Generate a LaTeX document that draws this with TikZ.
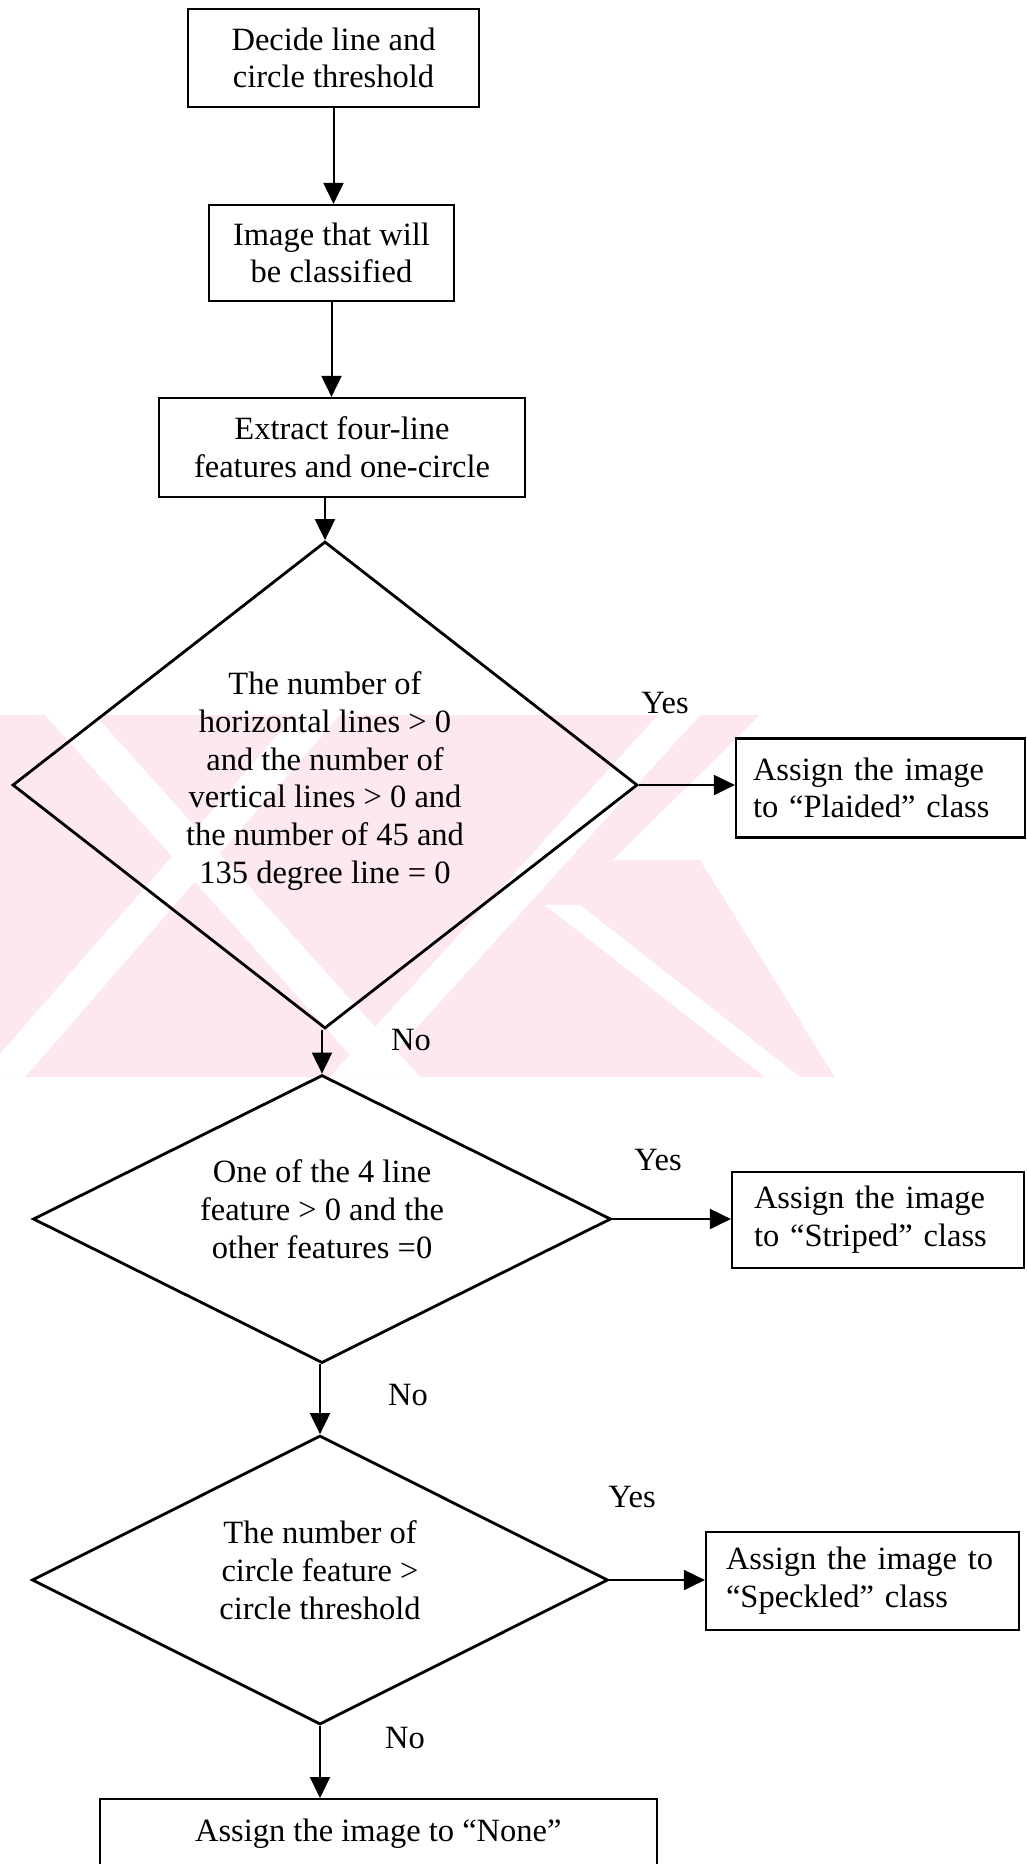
\documentclass[tikz,border=0pt]{standalone}
\usepackage{fontspec}
\setmainfont{Liberation Serif}
\usetikzlibrary{arrows.meta,shapes.geometric}
\definecolor{wmpink}{RGB}{252,232,237}

\begin{document}
\begin{tikzpicture}[x=1pt,y=-1pt,
  every node/.style={font=\fontsize{32.5}{37.7}\selectfont},
  box/.style={draw,line width=2.2pt,inner sep=0pt,align=center},
  sidebox/.style={draw,line width=2.2pt,inner ysep=0pt,align=left},
  decision/.style={draw,diamond,line width=2.8pt,inner sep=0pt,align=center},
  flow/.style={line width=2pt,-{Triangle[length=21pt,width=20pt]}},
  lbl/.style={inner sep=0pt}]
\useasboundingbox (0,0) rectangle (1027,1864);

% faint background emblem behind the first decision
\begin{scope}
  \clip (0,715) rectangle (835,1077);
  \fill[wmpink] (0,715) -- (760,715) -- (835,1077) -- (0,1077) -- cycle;
  % white gaps of the emblem
  \fill[white] (45,715) -- (95,715) -- (420,1077) -- (370,1077) -- cycle;
  \fill[white] (-20,1077) -- (25,1077) -- (340,715) -- (295,715) -- cycle;
  \fill[white] (545,905) -- (580,905) -- (800,1077) -- (765,1077) -- cycle;
  \fill[white] (330,1077) -- (372,1077) -- (700,715) -- (658,715) -- cycle;
  \fill[white] (760,715) -- (835,715) -- (835,1077) -- (700,860) -- (613,860) -- cycle;
\end{scope}

% process boxes
\node[box,minimum width=291,minimum height=98] (b1) at (333.5,58)
  {Decide line and\\circle threshold};
\node[box,minimum width=245,minimum height=96] (b2) at (331.5,253)
  {Image that will\\be classified};
\node[box,minimum width=366,minimum height=99] (b3) at (342,447.5)
  {Extract four-line\\features and one-circle};

% decisions
\node[decision,aspect=1.3,minimum width=625,minimum height=487,text depth=15pt] (d1) at (325,785)
  {The number of\\horizontal lines > 0\\and the number of\\vertical lines > 0 and\\the number of 45 and\\135 degree line = 0};
\node[decision,aspect=2,minimum width=578,minimum height=288,text depth=20pt] (d2) at (322,1219)
  {One of the 4 line\\feature > 0 and the\\other features =0};
\node[decision,aspect=2,minimum width=576,minimum height=289,text depth=20pt] (d3) at (320,1580)
  {The number of\\circle feature >\\circle threshold};

% outcome boxes
\node[sidebox,text width=255,inner xsep=17,minimum height=99] (plaid) at (880.5,788)
  {Assign the image\\to “Plaided” class};
\node[sidebox,text width=248,inner xsep=22,minimum height=96] (stripe) at (878,1220)
  {Assign the image\\to “Striped” class};
\node[sidebox,text width=273,inner xsep=20,minimum height=98] (speck) at (862.5,1581)
  {Assign the image to\\“Speckled” class};
\node[box,minimum width=557,text height=42pt,text depth=60pt,anchor=north] (none) at (378.3,1798)
  {Assign the image to “None”};

% yes / no labels
\node[lbl] (y1) at (665,703) {Yes};
\node[lbl] (n1) at (411,1040) {No};
\node[lbl] (y2) at (658,1160) {Yes};
\node[lbl] (n2) at (408,1395) {No};
\node[lbl] (y3) at (632,1497) {Yes};
\node[lbl] (n3) at (405,1738) {No};

% connectors
\draw[flow] (b1.south) -- (b1.south |- b2.north);
\draw[flow] (b2.south) -- (b2.south |- b3.north);
\draw[flow] (d1.north |- b3.south) -- (d1.north);
\draw[flow] (d2.north |- d1.south) -- (d2.north);
\draw[flow] (d1.east) -- (d1.east -| plaid.west);
\draw[flow] (d3.north |- d2.south) -- (d3.north);
\draw[flow] (d2.east) -- (d2.east -| stripe.west);
\draw[flow] (d3.east) -- (d3.east -| speck.west);
\draw[flow] (d3.south) -- (d3.south |- none.north);
\end{tikzpicture}
\end{document}
